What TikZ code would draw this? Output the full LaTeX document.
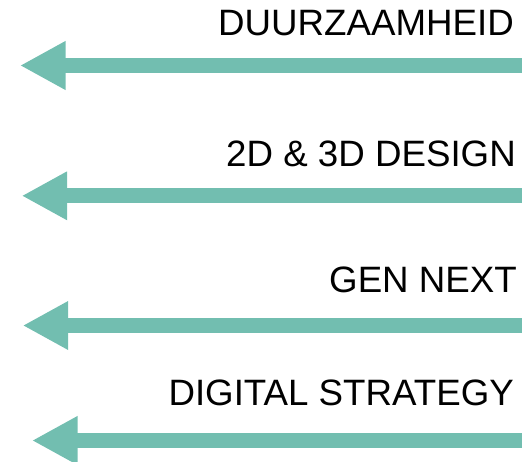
\documentclass[tikz,border=0pt]{standalone}
\usepackage{fontspec}
\setmainfont{Liberation Sans}
\usetikzlibrary{arrows.meta}
\definecolor{arrowteal}{RGB}{114,190,176}
\begin{document}
\begin{tikzpicture}[x=1pt,y=-1pt,
  arr/.style={draw=arrowteal, line width=15.3pt, line cap=butt,
    -{Triangle[length=45.5pt,width=45.5pt]}},
  lbl/.style={anchor=base east, inner sep=0pt, text=black,
    font=\fontsize{36.7}{40}\selectfont}]
\useasboundingbox (0,0) rectangle (522,461);
\node[lbl] (t1) at (514,35.5) {DUURZAAMHEID};
\node[lbl] (t2) at (516,166.5) {2D \& 3D DESIGN};
\node[lbl] (t3) at (517,292.5) {GEN NEXT};
\node[lbl] (t4) at (514,405.5) {DIGITAL STRATEGY};
\coordinate (s1) at (523,65.5);  \coordinate (e1) at (20,65.5);
\coordinate (s2) at (523,195.8); \coordinate (e2) at (21.7,195.8);
\coordinate (s3) at (523,325.5); \coordinate (e3) at (22.7,325.5);
\coordinate (s4) at (523,440.5); \coordinate (e4) at (32,440.5);
\draw[arr] (s1) -- (e1);
\draw[arr] (s2) -- (e2);
\draw[arr] (s3) -- (e3);
\draw[arr] (s4) -- (e4);
\end{tikzpicture}
\end{document}
